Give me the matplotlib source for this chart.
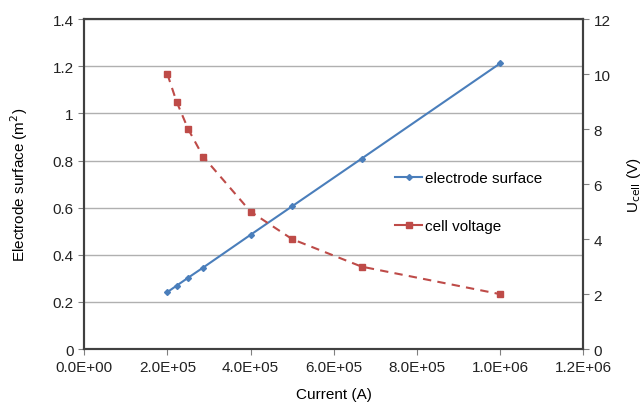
import matplotlib
matplotlib.use('Agg')
import matplotlib.pyplot as plt
from matplotlib.ticker import FuncFormatter

plt.rcParams['font.family'] = ['Liberation Sans', 'DejaVu Sans']

# Data
current = [2.0e5, 2.22e5, 2.5e5, 2.86e5, 4.0e5, 5.0e5, 6.67e5, 1.0e6]
electrode_surface = [0.242, 0.269, 0.303, 0.346, 0.485, 0.606, 0.808, 1.212]
cell_voltage = [10, 9, 8, 7, 5, 4, 3, 2]

blue = '#4A7EBB'
red = '#BE4B48'
frame = '#404040'

fig = plt.figure(figsize=(6.43, 4.10), dpi=100)
ax = fig.add_axes([0.131, 0.146, 0.776, 0.805])
ax2 = ax.twinx()

ln1, = ax.plot(current, electrode_surface, color=blue, lw=1.5,
               marker='D', markersize=3, label='electrode surface')
ln2, = ax2.plot(current, cell_voltage, color=red, lw=1.5, ls=(0, (4, 3)),
                marker='s', markersize=5, label='cell voltage')

ax.set_xlim(0, 1.2e6)
ax.set_ylim(0, 1.4)
ax2.set_ylim(0, 12)
ax.set_xticks([i * 2e5 for i in range(7)])
ax.set_yticks([0, 0.2, 0.4, 0.6, 0.8, 1, 1.2, 1.4])
ax.set_yticklabels(['0', '0.2', '0.4', '0.6', '0.8', '1', '1.2', '1.4'])
ax2.set_yticks(range(0, 13, 2))
ax.xaxis.set_major_formatter(FuncFormatter(
    lambda v, p: '{:.1E}'.format(v) if v else '0.0E+00'))

ax.grid(axis='y', color='#B0B0B0', lw=1)
ax.set_axisbelow(True)

for a in (ax, ax2):
    for s in a.spines.values():
        s.set_color(frame)
        s.set_linewidth(1.5)
    a.tick_params(direction='out', length=4, color='#808080', labelsize=11,
                  labelcolor='#222222')

ax.set_xlabel('Current (A)', fontsize=11, labelpad=10)
ax.set_ylabel('Electrode surface (m$^2$)', fontsize=11, labelpad=16)
ax2.set_ylabel('U$_{\\rm cell}$ (V)', fontsize=11, labelpad=10)

handles = [ln1, ln2]
leg = ax.legend(handles, [h.get_label() for h in handles], frameon=False,
                loc='upper left', bbox_to_anchor=(0.595, 0.58), fontsize=11,
                labelspacing=2.2, handlelength=1.8, handletextpad=0.2)
leg.legend_handles[1].set_linestyle('-')

fig.savefig('out.png', dpi=100)
